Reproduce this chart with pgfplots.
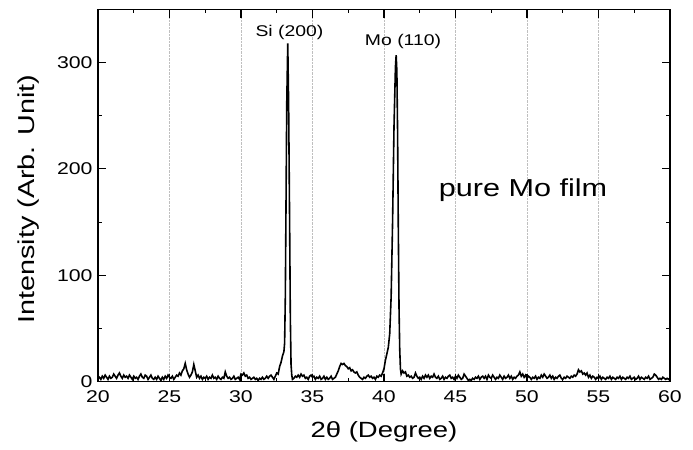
\documentclass[border=0pt]{standalone}
\usepackage{pgfplots}
\pgfplotsset{compat=1.18}
\usepackage{fontspec}
\setmainfont{Liberation Sans}[FakeStretch=1.25]
\begin{document}
\begin{tikzpicture}
\begin{axis}[
  scale only axis,
  width=572pt, height=372pt,
  xmin=20, xmax=60, ymin=0, ymax=350,
  xtick={20,25,...,60}, ytick={0,100,200,300},
  minor x tick num=1, minor y tick num=1,
  tick align=inside,
  major tick length=8pt, minor tick length=4pt,
  every tick/.style={black, line width=1.1pt},
  axis line style={line width=1.4pt},
  xmajorgrids, grid style={densely dotted, gray!50, line width=0.6pt},
  /pgf/number format/assume math mode=true,
  ticklabel style={font=\fontsize{17}{20}\selectfont},
  xticklabel style={yshift=-6pt},
  yticklabel style={xshift=-2pt},
  xlabel={2θ (Degree)},
  ylabel={Intensity (Arb. Unit)},
  xlabel style={font=\fontsize{22}{25}\selectfont, at={(axis description cs:0.5,-0.135)}, anchor=center},
  ylabel style={font=\fontsize{23}{26}\selectfont, at={(axis description cs:-0.122,0.49)}, anchor=center},
  clip mode=individual,
]
\addplot[black, line width=1.6pt] coordinates {
(20.0,3)(20.1,4)(20.2,2)(20.3,5)(20.4,3)(20.5,6)(20.6,4)(20.7,2)(20.8,5)(20.9,3)
(21.0,4)(21.1,7)(21.2,5)(21.3,3)(21.4,6)(21.5,8)(21.6,5)(21.7,3)(21.8,6)(21.9,4)
(22.0,5)(22.1,3)(22.2,6)(22.3,4)(22.4,2)(22.5,5)(22.6,3)(22.7,4)(22.8,2)(22.9,5)
(23.0,7)(23.1,4)(23.2,3)(23.3,6)(23.4,5)(23.5,2)(23.6,4)(23.7,6)(23.8,3)(23.9,2)
(24.0,4)(24.1,2)(24.2,5)(24.3,3)(24.4,1)(24.5,4)(24.6,2)(24.7,5)(24.8,3)(24.9,6)
(25.0,4)(25.1,3)(25.2,5)(25.3,2)(25.4,4)(25.5,6)(25.6,5)(25.7,8)(25.8,6)(25.9,10)
(26.0,12)(26.1,17)(26.2,11)(26.3,7)(26.4,4)(26.5,6)(26.6,9)(26.7,16)(26.8,10)(26.9,4)
(27.0,6)(27.1,3)(27.2,5)(27.3,2)(27.4,4)(27.5,3)(27.6,5)(27.7,2)(27.8,4)(27.9,3)
(28.0,6)(28.1,3)(28.2,4)(28.3,2)(28.4,5)(28.5,3)(28.6,2)(28.7,4)(28.8,3)(28.9,9)
(29.0,5)(29.1,3)(29.2,4)(29.3,2)(29.4,3)(29.5,5)(29.6,2)(29.7,3)(29.8,4)(29.9,2)
(30.0,7)(30.1,6)(30.2,8)(30.3,5)(30.4,6)(30.5,3)(30.6,4)(30.7,2)(30.8,3)(30.9,4)
(31.0,2)(31.1,3)(31.2,1)(31.3,3)(31.4,2)(31.5,4)(31.6,2)(31.7,3)(31.8,5)(31.9,3)
(32.0,5)(32.1,6)(32.2,4)(32.3,2)(32.4,5)(32.5,8)(32.6,7)(32.7,14)(32.8,18)(32.9,24)
(33.0,28)(33.05,36)(33.1,80)(33.15,170)(33.2,262)(33.27,318)(33.33,262)(33.4,150)(33.45,60)(33.5,16)(33.55,6)
(33.6,2)(33.7,3)(33.8,5)(33.9,4)(34.0,6)(34.1,4)(34.2,7)(34.3,5)(34.4,6)(34.5,3)(34.6,4)(34.7,2)(34.8,5)(34.9,6)
(35.0,4)(35.1,5)(35.2,2)(35.3,4)(35.4,3)(35.5,5)(35.6,2)(35.7,3)(35.8,5)(35.9,2)
(36.0,4)(36.1,2)(36.2,3)(36.3,5)(36.4,2)(36.5,3)(36.6,4)(36.7,7)(36.8,10)(36.9,14)
(37.0,17)(37.1,16)(37.2,17)(37.3,15)(37.4,14)(37.5,12)(37.6,13)(37.7,10)(37.8,11)(37.9,9)
(38.0,8)(38.1,9)(38.2,6)(38.3,4)(38.4,3)(38.5,2)(38.6,4)(38.7,3)(38.8,5)(38.9,6)
(39.0,4)(39.1,5)(39.2,3)(39.3,4)(39.4,2)(39.5,5)(39.6,4)(39.7,6)(39.8,5)(39.9,8)
(40.0,12)(40.1,20)(40.2,26)(40.3,32)(40.4,45)(40.5,80)(40.6,150)(40.7,240)(40.8,296)(40.85,307)(40.9,292)(40.95,235)(41.0,145)(41.05,70)(41.1,30)(41.15,12)(41.2,7)
(41.3,10)(41.4,8)(41.5,9)(41.6,5)(41.7,6)(41.8,4)(41.9,5)
(42.0,3)(42.1,4)(42.2,8)(42.3,5)(42.4,3)(42.5,4)(42.6,2)(42.7,5)(42.8,3)(42.9,6)
(43.0,4)(43.1,6)(43.2,3)(43.3,5)(43.4,4)(43.5,7)(43.6,4)(43.7,3)(43.8,5)(43.9,2)
(44.0,3)(44.1,5)(44.2,2)(44.3,4)(44.4,3)(44.5,5)(44.6,6)(44.7,3)(44.8,4)(44.9,2)
(45.0,5)(45.1,3)(45.2,6)(45.3,4)(45.4,2)(45.5,3)(45.6,7)(45.7,5)(45.8,3)(45.9,1)
(46.0,2)(46.1,1)(46.2,3)(46.3,2)(46.4,4)(46.5,3)(46.6,5)(46.7,2)(46.8,4)(46.9,5)
(47.0,3)(47.1,5)(47.2,2)(47.3,6)(47.4,4)(47.5,3)(47.6,6)(47.7,4)(47.8,2)(47.9,4)
(48.0,3)(48.1,6)(48.2,4)(48.3,2)(48.4,5)(48.5,3)(48.6,4)(48.7,6)(48.8,3)(48.9,5)
(49.0,2)(49.1,4)(49.2,3)(49.3,5)(49.4,6)(49.5,9)(49.6,5)(49.7,7)(49.8,4)(49.9,6)
(50.0,3)(50.1,5)(50.2,4)(50.3,2)(50.4,4)(50.5,3)(50.6,5)(50.7,2)(50.8,4)(50.9,3)
(51.0,6)(51.1,4)(51.2,7)(51.3,5)(51.4,3)(51.5,4)(51.6,6)(51.7,3)(51.8,5)(51.9,2)
(52.0,4)(52.1,3)(52.2,5)(52.3,6)(52.4,3)(52.5,2)(52.6,4)(52.7,3)(52.8,5)(52.9,4)
(53.0,3)(53.1,5)(53.2,4)(53.3,6)(53.4,5)(53.5,7)(53.6,11)(53.7,9)(53.8,10)(53.9,7)
(54.0,8)(54.1,6)(54.2,8)(54.3,4)(54.4,6)(54.5,3)(54.6,5)(54.7,4)(54.8,2)(54.9,4)
(55.0,3)(55.1,5)(55.2,2)(55.3,4)(55.4,3)(55.5,2)(55.6,4)(55.7,3)(55.8,5)(55.9,2)
(56.0,4)(56.1,3)(56.2,2)(56.3,4)(56.4,3)(56.5,5)(56.6,2)(56.7,4)(56.8,3)(56.9,2)
(57.0,4)(57.1,3)(57.2,5)(57.3,2)(57.4,3)(57.5,4)(57.6,2)(57.7,3)(57.8,5)(57.9,2)
(58.0,4)(58.1,3)(58.2,2)(58.3,4)(58.4,3)(58.5,5)(58.6,2)(58.7,3)(58.8,4)(58.9,7)
(59.0,6)(59.1,4)(59.2,2)(59.3,3)(59.4,2)(59.5,4)(59.6,3)(59.7,2)(59.8,3)(59.9,2)(60.0,3)
};
\node[font=\fontsize{15.5}{18}\selectfont] at (axis cs:33.39,328) {Si (200)};
\node[font=\fontsize{15.5}{18}\selectfont] at (axis cs:41.33,320) {Mo (110)};
\node[font=\fontsize{24.5}{27}\selectfont] at (axis cs:49.72,180) {pure Mo film};
\end{axis}
\path (current axis.south west) ++(-98pt,-68.3pt) rectangle ([shift={(23pt,9.5pt)}]current axis.north east);
\end{tikzpicture}
\end{document}
